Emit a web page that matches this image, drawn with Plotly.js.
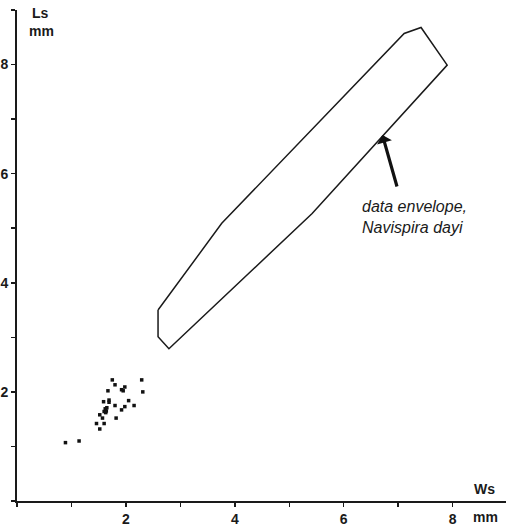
<!DOCTYPE html>
<html>
<head>
<meta charset="utf-8">
<script src="https://cdn.plot.ly/plotly-3.0.1.min.js"></script>
<style>html,body{margin:0;padding:0;background:#fff;overflow:hidden}#chart{width:506px;height:526px}</style>
</head>
<body>
<div id="chart"></div>
<script>
// Specimen measurements (Ws, Ls in mm)
const wsValues = [0.89, 1.14, 1.75, 1.80, 1.98, 1.92, 1.95, 1.67, 2.29, 2.31,
                  1.59, 1.69, 1.69, 2.05, 1.80, 1.98, 2.15, 1.92, 1.62, 1.64,
                  1.65, 1.60, 1.63, 1.52, 1.57, 1.82, 1.46, 1.60, 1.52];
const lsValues = [1.07, 1.10, 2.22, 2.13, 2.09, 2.04, 2.02, 2.02, 2.22, 2.00,
                  1.82, 1.85, 1.81, 1.84, 1.75, 1.73, 1.75, 1.67, 1.69, 1.65,
                  1.71, 1.64, 1.62, 1.58, 1.52, 1.52, 1.42, 1.42, 1.32];
// Data envelope of Navispira dayi (closed polygon)
const envelopeWs = [2.59, 2.59, 2.79, 5.42, 7.90, 7.42, 7.11, 3.76, 2.59];
const envelopeLs = [3.50, 3.01, 2.79, 5.27, 7.99, 8.68, 8.57, 5.09, 3.50];
// Ticks
const tickValues = [0, 1, 2, 3, 4, 5, 6, 7, 8, 9];
const tickLabels = ['', '', '2', '', '4', '', '6', '', '8', ''];
const arrowTip = [6.71, 6.71];
const envelopeLabel = ['data envelope,', 'Navispira dayi'];

const FONT = 'Arial, "Liberation Sans", sans-serif';

const traces = [
  {
    x: envelopeWs, y: envelopeLs, type: 'scatter', mode: 'lines',
    line: {color: '#1a1a1a', width: 1.5}, hoverinfo: 'skip', showlegend: false
  },
  {
    x: wsValues, y: lsValues, type: 'scatter', mode: 'markers',
    marker: {symbol: 'square', size: 3.5, color: '#111', line: {width: 0}},
    showlegend: false
  }
];

const axisCommon = {
  showline: true, linecolor: '#1a1a1a', linewidth: 2,
  ticks: 'outside', ticklen: 4, tickwidth: 1.5, tickcolor: '#1a1a1a',
  tickmode: 'array', tickvals: tickValues, ticktext: tickLabels,
  showgrid: false, zeroline: false,
  tickfont: {family: FONT, size: 14, color: '#1a1a1a', weight: 'bold'}
};

const layout = {
  width: 506, height: 526,
  margin: {l: 17, r: 0, t: 10, b: 25},
  paper_bgcolor: '#fff', plot_bgcolor: '#fff',
  xaxis: Object.assign({}, axisCommon, {range: [0, 8.98]}),
  yaxis: Object.assign({}, axisCommon, {range: [0, 9.0001]}),
  font: {family: FONT},
  annotations: [
    {xref: 'paper', yref: 'paper', x: (484 - 17) / 489, y: (500.5 - 488) / 491,
     text: '<b>Ws</b>', showarrow: false, xanchor: 'center', yanchor: 'middle',
     font: {family: FONT, size: 14, color: '#1a1a1a'}},
    {xref: 'paper', yref: 'paper', x: (485 - 17) / 489, y: (500.5 - 516) / 491,
     text: '<b>mm</b>', showarrow: false, xanchor: 'center', yanchor: 'middle',
     font: {family: FONT, size: 14, color: '#1a1a1a'}},
    {xref: 'paper', yref: 'paper', x: (40 - 17) / 489, y: (500.5 - 13) / 491,
     text: '<b>Ls</b>', showarrow: false, xanchor: 'center', yanchor: 'middle',
     font: {family: FONT, size: 14, color: '#1a1a1a'}},
    {xref: 'paper', yref: 'paper', x: (41 - 17) / 489, y: (500.5 - 31) / 491,
     text: '<b>mm</b>', showarrow: false, xanchor: 'center', yanchor: 'middle',
     font: {family: FONT, size: 14, color: '#1a1a1a'}},
    {x: arrowTip[0], y: arrowTip[1], xref: 'x', yref: 'y', text: ' ',
     showarrow: true, ax: 17, ay: 60, axref: 'pixel', ayref: 'pixel',
     arrowhead: 1, arrowsize: 0.8, arrowwidth: 3.2, arrowcolor: '#111'},
    {x: 6.30, y: 5.20, xref: 'x', yref: 'y', xanchor: 'left', yanchor: 'middle', align: 'left',
     text: '<i>' + envelopeLabel.join('</i><br><i>') + '</i>', showarrow: false,
     font: {family: FONT, size: 16, color: '#1a1a1a'}}
  ]
};

Plotly.newPlot('chart', traces, layout, {staticPlot: true, displayModeBar: false});
</script>
</body>
</html>
